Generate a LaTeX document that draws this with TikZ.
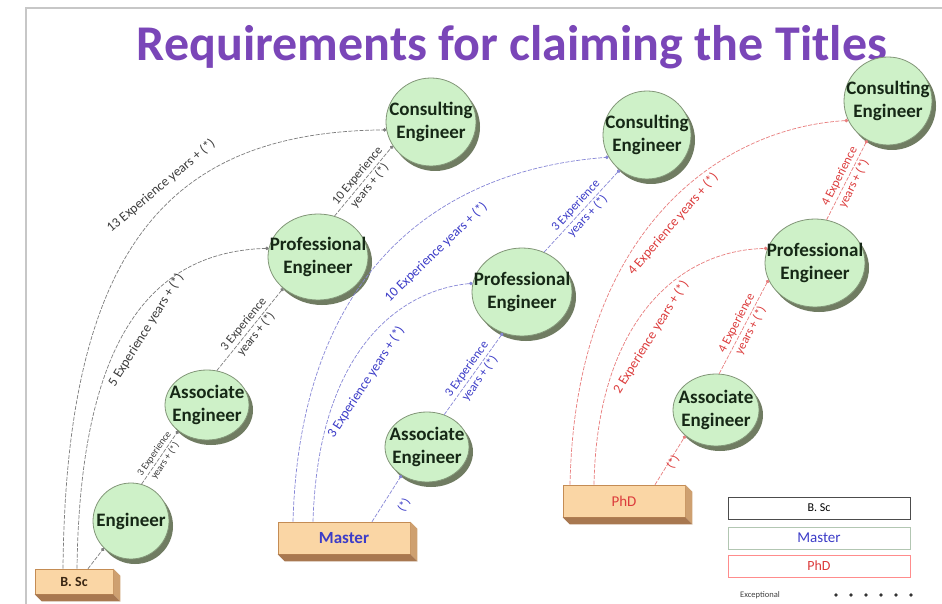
\documentclass[tikz,border=0pt]{standalone}
\usepackage{fontspec}
\setmainfont{Carlito}
\usetikzlibrary{shapes.geometric,shadows,arrows.meta,calc}
\definecolor{ttl}{RGB}{122,70,184}
\definecolor{cfill}{RGB}{206,241,200}
\definecolor{cborder}{RGB}{130,150,120}
\definecolor{cshadow}{RGB}{112,124,98}
\definecolor{ctxt}{RGB}{22,40,22}
\definecolor{boxfill}{RGB}{250,214,165}
\definecolor{boxborder}{RGB}{196,140,84}
\definecolor{boxright}{RGB}{206,160,112}
\definecolor{boxbottom}{RGB}{168,120,80}
\definecolor{bscl}{RGB}{125,125,125}
\definecolor{bsct}{RGB}{60,60,60}
\definecolor{msl}{RGB}{135,135,215}
\definecolor{mst}{RGB}{60,60,200}
\definecolor{phl}{RGB}{232,125,125}
\definecolor{pht}{RGB}{220,60,60}
\newcommand\extrude[1]{%
  \fill[boxright] (#1.north east) -- ++(7,7) -- ($(#1.south east)+(7,7)$) -- (#1.south east) -- cycle;
  \fill[boxbottom] (#1.south west) -- (#1.south east) -- ($(#1.south east)+(7,7)$) -- ($(#1.south west)+(7,7)$) -- cycle;}
\begin{document}
\begin{tikzpicture}[x=1pt,y=-1pt,
  circ/.style={ellipse, draw=cborder, line width=0.8pt, fill=cfill, inner sep=0pt,
    drop shadow={shadow xshift=4pt, shadow yshift=-5pt, fill=cshadow, opacity=1}},
  ctext/.style={font=\bfseries\fontsize{19}{23}\selectfont, text=ctxt, align=center, inner sep=0pt},
  degbox/.style={rectangle, draw=boxborder, line width=0.6pt, fill=boxfill, inner sep=0pt},
  conn/.style={line width=0.7pt, dash pattern=on 4pt off 1.5pt, -{Circle[length=3.5pt]}},
  bscc/.style={conn, draw=bscl},
  msc/.style={conn, draw=msl},
  phc/.style={conn, draw=phl},
  biglbl/.style={font=\fontsize{13.5}{15}\selectfont, inner sep=0pt},
  smalllbl/.style={font=\fontsize{12.5}{16}\selectfont, align=center, inner sep=0pt, sloped},
  tinylbl/.style={font=\fontsize{10}{13}\selectfont, align=center, inner sep=0pt, sloped},
  starlbl/.style={font=\fontsize{12}{14}\selectfont, inner sep=0pt},
  legbox/.style={rectangle, line width=0.7pt, minimum width=182pt, minimum height=22pt, inner sep=0pt}
]
\useasboundingbox (0,0) rectangle (942,604);
\fill[white] (0,0) rectangle (942,604);
\draw[black!22, line width=1.5pt] (26,604) -- (26,8) -- (942,8);

\node[font=\bfseries\fontsize{50}{60}\selectfont, text=ttl] (title) at (512,47) {Requirements for claiming the Titles};

% ---------- boxes
\node[degbox, minimum width=78pt, minimum height=25pt] (bsc) at (74,581.5) {};
\extrude{bsc}
\node[font=\bfseries\fontsize{14}{16}\selectfont, text=black!70!brown] (bsct) at (bsc) {B. Sc};
\node[degbox, minimum width=132pt, minimum height=32pt] (ma) at (344,538) {};
\extrude{ma}
\node[font=\bfseries\fontsize{17}{20}\selectfont, text=mst] (mat) at (ma) {Master};
\node[degbox, minimum width=122pt, minimum height=32pt] (phd) at (624,501) {};
\extrude{phd}
\node[font=\fontsize{15}{17}\selectfont, text=pht] (phdt) at (phd) {PhD};

% ---------- circles
\node[circ, minimum width=76pt, minimum height=76pt] (eng) at (131,521) {};
\node[ctext] (engt) at (eng) {Engineer};
\node[circ, minimum width=84pt, minimum height=70pt] (ae1) at (207,405) {};
\node[ctext] (ae1t) at (ae1) {Associate\\Engineer};
\node[circ, minimum width=100pt, minimum height=86pt] (pe1) at (318,257) {};
\node[ctext] (pe1t) at (pe1) {Professional\\Engineer};
\node[circ, minimum width=90pt, minimum height=88pt] (ce1) at (431,122) {};
\node[ctext] (ce1t) at (ce1) {Consulting\\Engineer};

\node[circ, minimum width=84pt, minimum height=70pt] (ae2) at (427,447) {};
\node[ctext] (ae2t) at (ae2) {Associate\\Engineer};
\node[circ, minimum width=100pt, minimum height=88pt] (pe2) at (522,292) {};
\node[ctext] (pe2t) at (pe2) {Professional\\Engineer};
\node[circ, minimum width=88pt, minimum height=88pt] (ce2) at (647,135) {};
\node[ctext] (ce2t) at (ce2) {Consulting\\Engineer};

\node[circ, minimum width=86pt, minimum height=72pt] (ae3) at (716,410) {};
\node[ctext] (ae3t) at (ae3) {Associate\\Engineer};
\node[circ, minimum width=100pt, minimum height=88pt] (pe3) at (815,263) {};
\node[ctext] (pe3t) at (pe3) {Professional\\Engineer};
\node[circ, minimum width=88pt, minimum height=88pt] (ce3) at (888,101) {};
\node[ctext] (ce3t) at (ce3) {Consulting\\Engineer};

% ---------- B.Sc connectors
\draw[bscc] ([xshift=14pt]bsc.north) -- (eng.225);
\draw[bscc] ([xshift=-11pt]bsc.north) .. controls (66,240) and (175,132) .. (ce1.190);
\draw[bscc] ([xshift=3pt]bsc.north) .. controls (80,340) and (150,252) .. (pe1.170);
\draw[bscc] (eng.74) -- node[tinylbl, text=bsct] (l3) {3 Experience\\years + (*)} (ae1.222);
\draw[bscc] (ae1.74) -- node[smalllbl, text=bsct] (l4) {3 Experience\\years + (*)} (pe1.222);
\draw[bscc] (pe1.68) -- node[smalllbl, text=bsct] (l5) {10 Experience\\years + (*)} (ce1.212);

\node[biglbl, text=bsct, rotate=40] (l1) at (161,186) {13 Experience years + (*)};
\node[biglbl, text=bsct, rotate=58] (l2) at (146,330) {5 Experience years + (*)};

% ---------- Master connectors
\draw[msc] ([xshift=28pt]ma.north) -- (ae2.228);
\draw[msc] ([xshift=-51pt]ma.north) .. controls (300,270) and (440,170) .. (ce2.210);
\draw[msc] ([xshift=-31pt]ma.north) .. controls (318,350) and (400,290) .. (pe2.170);
\draw[msc] (ae2.62) -- node[smalllbl, text=mst] (m3) {3 Experience\\years + (*)} (pe2.245);
\draw[msc] (pe2.61) -- node[smalllbl, text=mst] (m4) {3 Experience\\years + (*)} (ce2.232);

\node[biglbl, text=mst, rotate=44] (m1) at (436,252) {10 Experience years + (*)};
\node[biglbl, text=mst, rotate=57] (m2) at (366,382) {3 Experience years + (*)};
\node[starlbl, text=mst, rotate=60] (m5) at (404,505) {(*)};

% ---------- PhD connectors
\draw[phc] ([xshift=31pt]phd.north) -- (ae3.220);
\draw[phc] ([xshift=-54pt]phd.north) .. controls (575,230) and (720,128) .. (ce3.206);
\draw[phc] ([xshift=-30pt]phd.north) .. controls (597,320) and (680,250) .. (pe3.163);
\draw[phc] (ae3.85) -- node[smalllbl, text=pht] (p3) {4 Experience\\years + (*)} (pe3.200);
\draw[phc] (pe3.75) -- node[smalllbl, text=pht] (p4) {4 Experience\\years + (*)} (ce3.242);

\node[biglbl, text=pht, rotate=49] (p1) at (673,224) {4 Experience years + (*)};
\node[biglbl, text=pht, rotate=58] (p2) at (651,337) {2 Experience years + (*)};
\node[starlbl, text=pht, rotate=60] (p5) at (673,462) {(*)};

% ---------- legend
\node[legbox, draw=black!70] (lg1) at (819,508) {\fontsize{12}{14}\selectfont B. Sc};
\node[legbox, draw=green!25!black!30] (lg2) at (819,538) {\fontsize{15}{17}\selectfont\color{mst}Master};
\node[legbox, draw=red!45] (lg3) at (819,566) {\fontsize{14}{16}\selectfont\color{pht}PhD};
\node[font=\fontsize{8.5}{10}\selectfont, text=black!75] (exc) at (760,595) {Exceptional};
\coordinate (ds) at (836,595);
\coordinate (de) at (912,595);
\draw[black!80, line width=3.8pt, line cap=round, dash pattern=on 0pt off 15pt] (ds) -- (de);
\end{tikzpicture}
\end{document}
